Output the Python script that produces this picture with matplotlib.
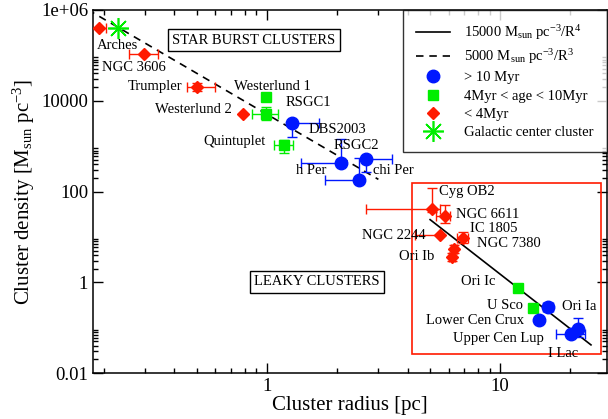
import numpy as np
import matplotlib
matplotlib.use("Agg")
import matplotlib.pyplot as plt
from matplotlib.lines import Line2D
from matplotlib.patches import Rectangle
from matplotlib.ticker import FixedLocator, NullFormatter

plt.rcParams['font.family'] = ['Liberation Serif', 'DejaVu Serif']
plt.rcParams['mathtext.fontset'] = 'custom'
plt.rcParams['mathtext.rm'] = 'Liberation Serif'
plt.rcParams['mathtext.it'] = 'Liberation Serif:italic'

# ---------------- data ----------------
# < 4 Myr (red diamonds)
red_names = ["Arches", "NGC 3606", "Trumpler", "Westerlund 2", "Cyg OB2", "NGC 6611",
             "NGC 2244", "IC 1805", "NGC 7380", "Ori Ib"]
red_R = [0.19, 0.295, 0.50, 0.79, 5.1, 5.8, 5.5, 6.95, 6.35, 6.2]
red_rho = [4.0e5, 1.07e5, 2.0e4, 5.1e3, 41, 29, 11, 9.5, 5.5, 3.6]
red_xlo = [0.012, 0.04, 0.045, 0, 2.45, 0.5, 1.2, 0.45, 0.2, 0.2]
red_xhi = [0.013, 0.045, 0.095, 0, 0.4, 0.3, 0.0, 0.35, 0.2, 0.2]
red_ylo = [0, 0, 4.0e3, 0, 5, 9, 0, 2.1, 1.0, 0.7]
red_yhi = [0, 0, 4.5e3, 0, 79, 21, 0, 3.4, 1.2, 0.8]

# 4 Myr < age < 10 Myr (green squares)
grn_names = ["Westerlund 1", "", "Quintuplet", "Ori Ic", "U Sco"]
grn_R = [0.99, 0.99, 1.18, 11.9, 13.8]
grn_rho = [1.2e4, 5.1e3, 1.07e3, 0.76, 0.27]
grn_xlo = [0, 0.13, 0.11, 0, 0]
grn_xhi = [0, 0.12, 0.11, 0, 0]
grn_ylo = [0, 1.3e3, 360, 0, 0]
grn_yhi = [0, 2.1e3, 310, 0, 0]

# > 10 Myr (blue circles)
blu_names = ["RSGC1", "RSGC2", "chi Per", "h Per", "Ori Ia", "Lower Cen Crux",
             "Upper Cen Lup", "I Lac"]
blu_R = [1.28, 2.07, 2.65, 2.47, 16.0, 14.7, 20.1, 21.5]
blu_rho = [3.2e3, 427, 525, 182, 0.29, 0.15, 0.072, 0.093]
blu_xlo = [0, 0.67, 0, 0.70, 0.7, 0, 2.8, 0]
blu_xhi = [0.39, 0, 0.77, 0, 0.9, 0, 3.1, 0]
blu_ylo = [1.6e3, 0, 255, 0, 0, 0, 0, 0.03]
blu_yhi = [0, 1.02e3, 0, 368, 0, 0, 0, 0.073]

# Galactic center cluster (green asterisk)
gc_R = [0.229]
gc_rho = [4.0e5]
gc_xerr = [0.02]

# model lines
steep_A, steep_n, steep_range = 15000, 4, [5.0, 24.5]
shallow_A, shallow_n, shallow_range = 5000, 3, [0.17, 3.0]

# ---------------- figure ----------------
fig = plt.figure(figsize=(6.08, 4.19), dpi=100)
ax = fig.add_axes([93/608, 1-373/419, 514/608, 363/419])
ax.set_xscale('log')
ax.set_yscale('log')
ax.set_xlim(0.179, 28.7)
ax.set_ylim(0.01, 1e6)

RED, GRN, BLU = '#ff1a00', '#00ee00', '#0018ff'

Rs = np.array(steep_range)
ax.plot(Rs, steep_A / Rs**steep_n, color='black', lw=1.2)
Rd = np.array(shallow_range)
ax.plot(Rd, shallow_A / Rd**shallow_n, color='black', lw=1.2, dashes=(4.5, 3.5))

def group(R, rho, xlo, xhi, ylo, yhi, color, marker, ms):
    ax.errorbar(R, rho, xerr=[xlo, xhi], yerr=[ylo, yhi], fmt='none',
                ecolor=color, elinewidth=1.0, capsize=3.5, capthick=1.0, zorder=3)
    ax.plot(R, rho, ls='none', marker=marker, ms=ms, color=color, mec=color, zorder=4)

group(red_R, red_rho, red_xlo, red_xhi, red_ylo, red_yhi, RED, 'D', 6.5)
group(grn_R, grn_rho, grn_xlo, grn_xhi, grn_ylo, grn_yhi, GRN, 's', 7.5)
group(blu_R, blu_rho, blu_xlo, blu_xhi, blu_ylo, blu_yhi, BLU, 'o', 9)
ax.errorbar(gc_R, gc_rho, xerr=gc_xerr, fmt='none', ecolor=GRN, elinewidth=1.0,
            capsize=0, zorder=3)
ax.plot(gc_R, gc_rho, ls='none', marker=(8, 2, 0), ms=15, mew=1.2, color=GRN, zorder=5)

# labels (axes-fraction positions: left x, centre y)
label_pos = {
    "Arches": (0.008, 0.903), "NGC 3606": (0.018, 0.842), "Trumpler": (0.068, 0.788),
    "Westerlund 1": (0.274, 0.788), "RSGC1": (0.374, 0.744), "Westerlund 2": (0.121, 0.725),
    "DBS2003": (0.420, 0.672), "Quintuplet": (0.214, 0.639), "RSGC2": (0.469, 0.628),
    "h Per": (0.395, 0.559), "chi Per": (0.545, 0.559), "Cyg OB2": (0.673, 0.499),
    "NGC 6611": (0.706, 0.438), "NGC 2244": (0.523, 0.380), "IC 1805": (0.733, 0.399),
    "NGC 7380": (0.747, 0.358), "Ori Ib": (0.595, 0.320), "Ori Ic": (0.716, 0.251),
    "U Sco": (0.767, 0.185), "Ori Ia": (0.912, 0.182), "Lower Cen Crux": (0.648, 0.146),
    "Upper Cen Lup": (0.700, 0.096), "I Lac": (0.885, 0.055),
}
for name, (fx, fy) in label_pos.items():
    ax.text(fx, fy, name, transform=ax.transAxes, ha='left', va='center',
            fontsize=10.5, zorder=6)

ax.text(0.313, 0.917, "STAR BURST CLUSTERS", transform=ax.transAxes, ha='center',
        va='center', fontsize=10.5,
        bbox=dict(boxstyle='square,pad=0.3', fc='white', ec='black', lw=1.0))
ax.text(0.436, 0.251, "LEAKY CLUSTERS", transform=ax.transAxes, ha='center',
        va='center', fontsize=10.5,
        bbox=dict(boxstyle='square,pad=0.3', fc='white', ec='black', lw=1.0))

ax.add_patch(Rectangle((0.621, 0.052), 0.367, 0.471, transform=ax.transAxes,
                       fill=False, ec=RED, lw=1.2, zorder=2))

# ticks
ax.set_yticks([1e-2, 1, 1e2, 1e4, 1e6])
ax.set_yticklabels(["0.01", "1", "100", "10000", "1e+06"])
yminor = [k * 10.0**e for e in (-2, 0, 2, 4) for k in range(2, 10)]
ax.yaxis.set_minor_locator(FixedLocator(yminor))
ax.yaxis.set_minor_formatter(NullFormatter())
ax.set_xticks([1, 10])
ax.set_xticklabels(["1", "10"])
ax.xaxis.set_minor_formatter(NullFormatter())
ax.tick_params(which='both', direction='in', top=True, right=True, width=1.0,
               labelsize=13.5)
ax.tick_params(which='major', length=7)
ax.tick_params(which='minor', length=3.5)
for s in ax.spines.values():
    s.set_linewidth(1.1)

ax.set_xlabel("Cluster radius [pc]", fontsize=15, labelpad=1)
ax.set_ylabel(r"Cluster density [M$_{\mathrm{sun}}$ pc$^{-3}$]", fontsize=15, labelpad=3)

handles = [
    Line2D([], [], color='black', lw=1.2),
    Line2D([], [], color='black', lw=1.2, dashes=(4.5, 3.5)),
    Line2D([], [], ls='none', marker='o', ms=9, color=BLU),
    Line2D([], [], ls='none', marker='s', ms=7.5, color=GRN),
    Line2D([], [], ls='none', marker='D', ms=6.5, color=RED),
    Line2D([], [], ls='none', marker=(8, 2, 0), ms=15, mew=1.2, color=GRN),
]
labels = [r"15000 M$_{\mathrm{sun}}$ pc$^{-3}$/R$^{4}$",
          r"5000 M$_{\mathrm{sun}}$ pc$^{-3}$/R$^{3}$",
          "> 10 Myr", "4Myr < age < 10Myr", "< 4Myr", "Galactic center cluster"]
leg = ax.legend(handles, labels, loc='upper right', fontsize=10.5, frameon=True,
                fancybox=False, borderaxespad=0.0, handlelength=2.3,
                labelspacing=0.35, handletextpad=1.0, borderpad=0.9)
leg.get_frame().set_edgecolor('black')
leg.get_frame().set_linewidth(1.0)

fig.savefig("out.png", dpi=100)
